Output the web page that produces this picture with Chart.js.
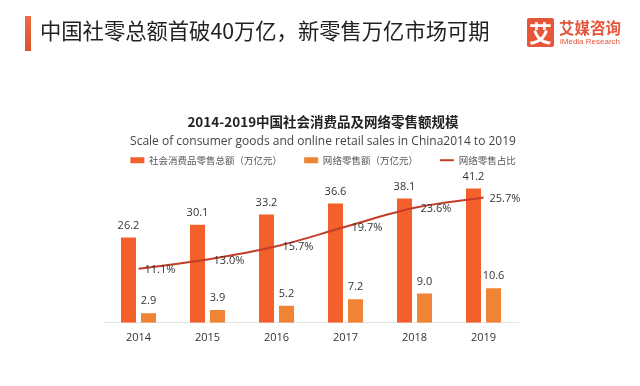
<!DOCTYPE html>
<html>
<head>
<meta charset="utf-8">
<script src="https://cdn.jsdelivr.net/npm/chart.js@4/dist/chart.umd.min.js"></script>
<style>
  html, body { margin: 0; padding: 0; background: #fff; }
  #wrap { position: relative; width: 640px; height: 386px; overflow: hidden; background: #fff; }
  #c { position: absolute; left: 0; top: 0; }
  #hbar { position: absolute; left: 25px; top: 16px; width: 6px; height: 35px; background: linear-gradient(#ec6a45, #d8542f); }
  #htitle { position: absolute; left: 40px; top: 16px; font: 21.3px "Noto Sans CJK SC", sans-serif; color: #222; white-space: nowrap; line-height: 28px; }
  #logo { position: absolute; left: 527px; top: 18px; width: 27px; height: 29px; background: #e8563a; color: #fff; font: bold 23px "Noto Sans CJK SC", sans-serif; text-align: center; line-height: 29px; border-radius: 2px; }
  #logot { position: absolute; left: 559px; top: 17px; font: bold 15.5px "Noto Sans CJK SC", sans-serif; color: #e4553a; white-space: nowrap; line-height: 20px; }
  #logos { position: absolute; left: 560px; top: 37px; font: 8px "Liberation Sans", Arial, sans-serif; color: #e4553a; white-space: nowrap; line-height: 10px; }
</style>
</head>
<body>
<div id="wrap">
  <canvas id="c" width="640" height="386"></canvas>
  <div id="hbar"></div>
  <div id="htitle">中国社零总额首破40万亿，新零售万亿市场可期</div>
  <div id="logo">艾</div>
  <div id="logot">艾媒咨询</div>
  <div id="logos">iMedia Research</div>
</div>
<script>
const years = ['2014', '2015', '2016', '2017', '2018', '2019'];
const totalRetail = [26.2, 30.1, 33.2, 36.6, 38.1, 41.2];
const onlineRetail = [2.9, 3.9, 5.2, 7.2, 9.0, 10.6];
const onlineShare = [11.1, 13.0, 15.7, 19.7, 23.6, 25.7];
const seriesNames = ['社会消费品零售总额（万亿元）', '网络零售额（万亿元）', '网络零售占比'];
const chartTitle = '2014-2019中国社会消费品及网络零售额规模';
const chartSubtitle = 'Scale of consumer goods and online retail sales in China2014 to 2019';

const valueLabels = {
  id: 'valueLabels',
  afterDatasetsDraw(chart) {
    const ctx = chart.ctx;
    ctx.save();
    ctx.font = '11px "Open Sans", sans-serif';
    ctx.fillStyle = '#333';
    chart.data.datasets.forEach((ds, i) => {
      const meta = chart.getDatasetMeta(i);
      meta.data.forEach((el, j) => {
        const v = ds.data[j];
        ctx.textBaseline = 'middle';
        if (ds.type === 'line') {
          ctx.textAlign = 'left';
          ctx.fillText(v.toFixed(1) + '%', el.x + 6, el.y + 1);
        } else {
          ctx.textAlign = 'center';
          ctx.fillText(v.toFixed(1), el.x, el.y - 12);
        }
      });
    });
    ctx.restore();
  }
};

new Chart(document.getElementById('c'), {
  data: {
    labels: years,
    datasets: [
      { type: 'bar', label: seriesNames[0], data: totalRetail, backgroundColor: '#f4602b', yAxisID: 'y', order: 1,
        categoryPercentage: 0.58, barPercentage: 0.75, pointStyle: 'rect' },
      { type: 'bar', label: seriesNames[1], data: onlineRetail, backgroundColor: '#ef8434', yAxisID: 'y', order: 1,
        categoryPercentage: 0.58, barPercentage: 0.75, pointStyle: 'rect' },
      { type: 'line', label: seriesNames[2], data: onlineShare, borderColor: '#c43d28', backgroundColor: '#c43d28',
        borderWidth: 2, pointRadius: 0, tension: 0.35, yAxisID: 'y1', order: 0, pointStyle: 'line' }
    ]
  },
  options: {
    responsive: false,
    animation: false,
    devicePixelRatio: 1,
    layout: { padding: { top: 110, left: 104, right: 98, bottom: 34 } },
    plugins: {
      title: { display: true, text: chartTitle, color: '#222',
        font: { family: '"Noto Sans CJK SC", sans-serif', size: 13.5, weight: 'bold' }, padding: { top: 4, bottom: 0 } },
      subtitle: { display: true, text: chartSubtitle, color: '#444',
        font: { family: '"Open Sans", sans-serif', size: 12 }, padding: { top: 4, bottom: -15 } },
      legend: { display: true, position: 'top',
        labels: { usePointStyle: true, pointStyleWidth: 14, boxHeight: 6, padding: 22, color: '#555',
          font: { family: '"Noto Sans CJK SC", sans-serif', size: 9.5 },
          sort: (a, b) => a.datasetIndex - b.datasetIndex } },
      tooltip: { enabled: false }
    },
    scales: {
      x: { grid: { display: false, drawTicks: false }, border: { display: true, color: '#e3e3e3', width: 1 },
        ticks: { color: '#333', padding: 8, font: { family: '"Open Sans", sans-serif', size: 11 } } },
      y: { display: false, min: 0, max: 45.3 },
      y1: { display: true, position: 'right', min: 0, max: 30.3,
        grid: { display: false }, border: { display: false }, ticks: { display: false },
        afterFit: (s) => { s.width = 24; } }
    }
  },
  plugins: [valueLabels]
});
</script>
</body>
</html>
